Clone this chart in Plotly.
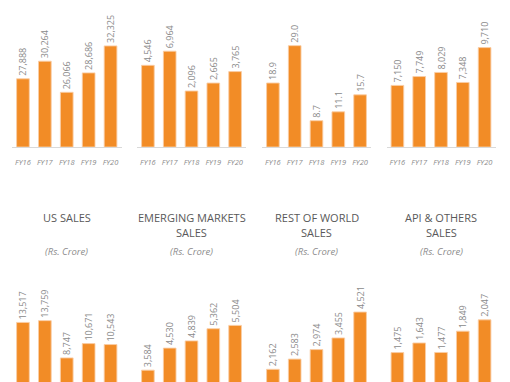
import plotly.graph_objects as go

years = ["FY16", "FY17", "FY18", "FY19", "FY20"]

# top row (titles cropped out of the picture)
top_a = [27888, 30264, 26066, 28686, 32325]
top_b = [4546, 6964, 2096, 2665, 3765]
top_c = [18.9, 29.0, 8.7, 11.1, 15.7]
top_d = [7150, 7749, 8029, 7348, 9710]

# bottom row
us_sales = [13517, 13759, 8747, 10671, 10543]
em_sales = [3584, 4530, 4839, 5362, 5504]
row_sales = [2162, 2583, 2974, 3455, 4521]
api_sales = [1475, 1643, 1477, 1849, 2047]

bottom_titles = [["US SALES"], ["EMERGING MARKETS", "SALES"],
                 ["REST OF WORLD", "SALES"], ["API & OTHERS", "SALES"]]
subtitle = "(Rs. Crore)"

W, H = 510, 382
xdom_px = [(12, 121.5), (137, 246), (262, 371), (386.5, 495.5)]
top_ydom = [1 - 146.7 / H, 1 - 2 / H]
bot_ydom = [0, 1 - 262 / H]

# (axis type, range) per panel; the value axis is hidden
top_axes = [("linear", [18730, 38247]), ("log", [2.5927, 4.4867]),
            ("linear", [1.67, 40.81]), ("linear", [2998, 12800])]
bot_axes = [("linear", [5508, 21642]), ("linear", [3077, 8222]),
            ("linear", [1639, 6584]), ("linear", [961, 3057.7])]

BAR = "#F28C26"
EDGE = "rgba(250,205,165,0.9)"
LABEL = "#8a8a8a"

fig = go.Figure()
layout = dict(
    width=W, height=H, margin=dict(l=0, r=0, t=0, b=0),
    paper_bgcolor="white", plot_bgcolor="white", showlegend=False,
    font=dict(family="Open Sans"),
)
annotations = []

series_top = [top_a, top_b, top_c, top_d]
series_bot = [us_sales, em_sales, row_sales, api_sales]
fmt_top = ["%{y:,}", "%{y:,}", "%{y:.1f}", "%{y:,}"]

idx = 0
for row, (series, axes, ydom) in enumerate([(series_top, top_axes, top_ydom),
                                             (series_bot, bot_axes, bot_ydom)]):
    for i in range(4):
        idx += 1
        sfx = "" if idx == 1 else str(idx)
        xa, ya = "x" + sfx, "y" + sfx
        tmpl = fmt_top[i] if row == 0 else "%{y:,}"
        fig.add_trace(go.Bar(
            x=years, y=series[i], xaxis=xa, yaxis=ya,
            marker=dict(color=BAR, line=dict(color=EDGE, width=1)),
            texttemplate=tmpl, textposition="outside", textangle=-90,
            textfont=dict(family="Open Sans", size=9, color=LABEL),
            constraintext="none", cliponaxis=True, width=0.58,
        ))
        x0, x1 = xdom_px[i]
        layout["xaxis" + sfx] = dict(
            domain=[x0 / W, x1 / W], anchor=ya,
            showgrid=False, zeroline=False,
            showline=(row == 0), linecolor="#d9d9d9", linewidth=1,
            ticks="outside" if row == 0 else "", ticklen=8,
            tickcolor="rgba(0,0,0,0)",
            showticklabels=(row == 0),
            tickfont=dict(family="Open Sans", size=7.5, color="#8c8c8c", style="italic"),
        )
        atype, rng = axes[i]
        layout["yaxis" + sfx] = dict(
            domain=ydom, anchor=xa, type=atype, range=rng,
            visible=False, showgrid=False, zeroline=False,
        )

# titles of the bottom row
title_y = [217.3, 232.7]
for i, lines in enumerate(bottom_titles):
    cx = (xdom_px[i][0] + xdom_px[i][1]) / 2 / W
    for j, line in enumerate(lines):
        annotations.append(dict(
            x=cx, y=1 - title_y[j] / H, xref="paper", yref="paper",
            text=line, showarrow=False, xanchor="center", yanchor="middle",
            font=dict(family="Open Sans", size=11, color="#595959"),
        ))
    annotations.append(dict(
        x=cx, y=1 - 251.7 / H, xref="paper", yref="paper",
        text=subtitle, showarrow=False, xanchor="center", yanchor="middle",
        font=dict(family="Open Sans", size=9.5, color="#8c8c8c", style="italic"),
    ))

layout["annotations"] = annotations
fig.update_layout(**layout)
fig.write_html("out.html", config={"displayModeBar": False, "staticPlot": True})

# remove the browser's default page margin so the figure fills the window
with open("out.html", encoding="utf-8") as f:
    html = f.read()
html = html.replace("<head>", "<head><style>html,body{margin:0;padding:0;overflow:hidden;}</style>", 1)
with open("out.html", "w", encoding="utf-8") as f:
    f.write(html)
